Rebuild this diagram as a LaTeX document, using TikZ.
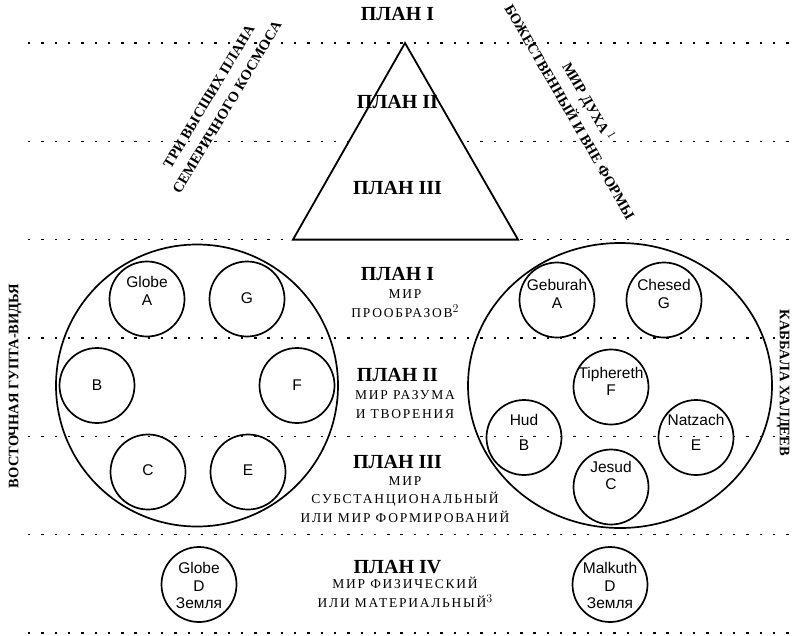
\documentclass[tikz,border=0pt]{standalone}
\usepackage{fontspec}
\setmainfont{Liberation Serif}
\setsansfont{Liberation Sans}
\newfontfamily\capsfont[LetterSpace=13]{Liberation Serif}
\usetikzlibrary{shapes.geometric}

\tikzset{
  plan/.style={font=\bfseries\fontsize{20}{24}\selectfont, inner sep=0pt, anchor=base},
  world/.style={font=\capsfont\fontsize{13.5}{18.5}\selectfont, align=center, inner sep=0pt, anchor=base},
  globe/.style={draw, circle, line width=1.7pt, minimum size=75pt, inner sep=0pt},
  gname/.style={font=\sffamily\fontsize{15.5}{17.5}\selectfont, align=center, inner sep=0pt},
  side/.style={font=\bfseries\fontsize{14.5}{21}\selectfont, align=center, inner sep=0pt},
  dots/.style={line width=1.2pt, dash pattern=on 2.4pt off 10.9pt},
}
\newcommand{\fnote}[1]{\raisebox{5pt}{\fontsize{12}{12}\selectfont$#1$}}

\begin{document}
\begin{tikzpicture}[x=1pt, y=-1pt]
\useasboundingbox (0,0) rectangle (794,635);
% planes
\draw[dots] (28,43) -- (794,43);
\draw[dots] (28,141.3) -- (794,141.3);
\draw[dots] (28,239.6) -- (794,239.6);
\draw[dots] (28,338) -- (794,338);
\draw[dots] (28,436.3) -- (794,436.3);
\draw[dots] (28,534.6) -- (794,534.6);
\draw[dots] (28,633) -- (794,633);

% triangle of the three upper planes
\draw[line width=1.8pt, fill=white] (405,43) -- (518,239.6) -- (293,239.6) -- cycle;
\node[plan] (top1) at (397.5,20) {ПЛАН I};
\node[plan] (top2) at (397.5,108) {ПЛАН II};
\node[plan] (top3) at (397.5,194) {ПЛАН III};
\node[side, rotate=59] (upper) at (218,102) {ТРИ ВЫСШИХ ПЛАНА\\СЕМЕРИЧНОГО КОСМОСА};
\node[side, rotate=-60] (spirit) at (580,106) {МИР ДУХА\,\fnote{1}\\БОЖЕСТВЕННЫЙ И ВНЕ ФОРМЫ};

% lower planes (world texts sit on their last baseline)
\node[plan] (plan1) at (397.5,280) {ПЛАН I};
\node[world] (world1) at (405,317) {МИР\\ПРООБРАЗОВ\fnote{2}};
\node[plan] (plan2) at (397.5,381) {ПЛАН II};
\node[world] (world2) at (405,418) {МИР РАЗУМА\\И ТВОРЕНИЯ};
\node[plan] (plan3) at (397.5,468) {ПЛАН III};
\node[world] (world3) at (405,522) {МИР\\СУБСТАНЦИОНАЛЬНЫЙ\\ИЛИ МИР ФОРМИРОВАНИЙ};
\node[plan] (plan4) at (397.5,573) {ПЛАН IV};
\node[world] (world4) at (405,607) {МИР ФИЗИЧЕСКИЙ\\ИЛИ МАТЕРИАЛЬНЫЙ\fnote{3}};

% eastern chain
\node[side, rotate=90] (gupta) at (15,386) {ВОСТОЧНАЯ ГУПТА-ВИДЬЯ};
\node[draw, circle, line width=1.7pt, minimum size=282pt] (east) at (197,385.5) {};
\node[globe] (ea) at (147,299) {};
\node[gname] (ea-t) at (147,291) {Globe\\A};
\node[globe] (eg) at (247,299) {};
\node[gname] (eg-t) at (247,298) {G};
\node[globe] (eb) at (97,385.5) {};
\node[gname] (eb-t) at (97,385.5) {B};
\node[globe] (ef) at (297,385.5) {};
\node[gname] (ef-t) at (297,385.5) {F};
\node[globe] (ec) at (148,472) {};
\node[gname] (ec-t) at (148,470) {C};
\node[globe] (ee) at (248,472) {};
\node[gname] (ee-t) at (248,470) {E};
\node[globe] (ed) at (199,584.5) {};
\node[gname] (ed-t) at (199,585.5) {Globe\\D\\Земля};

% kabbalah
\node[side, rotate=-90] (kabbala) at (783,383) {КАББАЛА ХАЛДЕЕВ};
\node[draw, ellipse, line width=1.7pt, minimum width=304pt, minimum height=285pt] (chaldea) at (620,385.5) {};
\node[globe] (geburah) at (557,300) {};
\node[gname] (geburah-t) at (557,294) {Geburah\\A};
\node[globe] (chesed) at (664,300) {};
\node[gname] (chesed-t) at (664,294) {Chesed\\G};
\node[globe] (tiphereth) at (611,387) {};
\node[gname] (tiphereth-t) at (611,381.5) {Tiphereth\\F};
\node[globe] (hud) at (524,437.5) {};
\node[gname] (hud-t) at (524,432.5) {Hud\\[7.5pt]B};
\node[globe] (natzach) at (696,437.5) {};
\node[gname] (natzach-t) at (696,432.5) {Natzach\\[7.5pt]E};
\node[globe] (jesud) at (611,487) {};
\node[gname] (jesud-t) at (611,475.5) {Jesud\\C};
\node[globe] (malkuth) at (610,584.5) {};
\node[gname] (malkuth-t) at (610,585.5) {Malkuth\\D\\Земля};
\end{tikzpicture}
\end{document}
